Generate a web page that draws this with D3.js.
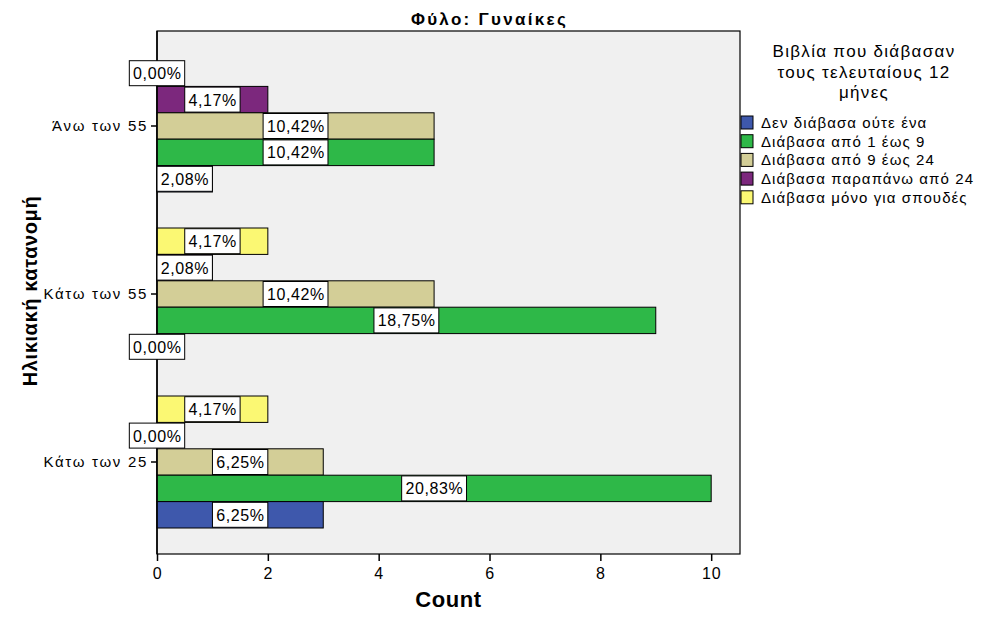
<!DOCTYPE html>
<html>
<head>
<meta charset="utf-8">
<script src="https://cdn.jsdelivr.net/npm/d3@7"></script>
<style>
  html, body { margin: 0; padding: 0; background: #ffffff; }
  svg { display: block; font-family: "Liberation Sans", Arial, sans-serif; }
</style>
</head>
<body>
<svg id="chart" width="981" height="618"></svg>
<script>
// Age groups (top to bottom)
const ageGroups = ["Άνω των 55", "Κάτω των 55", "Κάτω των 25"];

// Reading categories, in bar order within each group (top to bottom)
const readingCats = [
  "Διάβασα μόνο για σπουδές",
  "Διάβασα παραπάνω από 24",
  "Διάβασα από 9 έως 24",
  "Διάβασα από 1 έως 9",
  "Δεν διάβασα ούτε ένα"
];

// Legend order
const legendCats = [
  "Δεν διάβασα ούτε ένα",
  "Διάβασα από 1 έως 9",
  "Διάβασα από 9 έως 24",
  "Διάβασα παραπάνω από 24",
  "Διάβασα μόνο για σπουδές"
];

const catColors = {
  "Δεν διάβασα ούτε ένα": "#3e58ac",
  "Διάβασα από 1 έως 9": "#2eb848",
  "Διάβασα από 9 έως 24": "#d3ce97",
  "Διάβασα παραπάνω από 24": "#7c287d",
  "Διάβασα μόνο για σπουδές": "#fbf873"
};

// Counts per age group, in readingCats order
const countsOver55  = [0, 2, 5, 5, 1];
const countsUnder55 = [2, 1, 5, 9, 0];
const countsUnder25 = [2, 0, 3, 10, 3];

// Percent labels (share of all 48 women)
const pctOver55  = ["0,00%", "4,17%", "10,42%", "10,42%", "2,08%"];
const pctUnder55 = ["4,17%", "2,08%", "10,42%", "18,75%", "0,00%"];
const pctUnder25 = ["4,17%", "0,00%", "6,25%", "20,83%", "6,25%"];

const xTicks = [0, 2, 4, 6, 8, 10];

const countsByGroup = [countsOver55, countsUnder55, countsUnder25];
const pctByGroup = [pctOver55, pctUnder55, pctUnder25];

const rows = [];
ageGroups.forEach((g, gi) => {
  readingCats.forEach((c, ci) => {
    rows.push({ group: g, cat: c, value: countsByGroup[gi][ci], label: pctByGroup[gi][ci] });
  });
});

const svg = d3.select("#chart");

const plot = { left: 157, right: 740, top: 31, bottom: 554 };

const x = d3.scaleLinear().domain([0, 10.52]).range([plot.left, plot.right]);

const y0 = d3.scaleBand()
  .domain(ageGroups)
  .range([42, 546])
  .paddingInner(36 / 168)
  .paddingOuter(18 / 168);

const y1 = d3.scaleBand()
  .domain(readingCats)
  .range([0, y0.bandwidth()]);

// Plot background
svg.append("rect")
  .attr("x", plot.left).attr("y", plot.top)
  .attr("width", plot.right - plot.left).attr("height", plot.bottom - plot.top)
  .attr("fill", "#f0f0f0")
  .attr("stroke", "#000").attr("stroke-width", 1.2);

// Title
svg.append("text")
  .attr("x", (plot.left + plot.right) / 2 + 41).attr("y", 25)
  .attr("text-anchor", "middle")
  .attr("font-size", 17).attr("font-weight", "bold")
  .attr("letter-spacing", 2.3)
  .text("Φύλο: Γυναίκες");

// Bars
const bars = svg.append("g");
bars.selectAll("rect")
  .data(rows.filter(d => d.value > 0))
  .join("rect")
  .attr("x", x(0))
  .attr("y", d => y0(d.group) + y1(d.cat))
  .attr("width", d => x(d.value) - x(0))
  .attr("height", y1.bandwidth())
  .attr("fill", d => catColors[d.cat])
  .attr("stroke", "#000").attr("stroke-width", 1);

// X axis
const xAxis = svg.append("g")
  .attr("transform", `translate(0,${plot.bottom})`)
  .call(d3.axisBottom(x).tickValues(xTicks).tickSize(7).tickPadding(7).tickFormat(d3.format("d")));
xAxis.select(".domain").remove();
xAxis.selectAll("line").attr("stroke", "#000").attr("stroke-width", 1.5);
xAxis.selectAll("text")
  .attr("font-size", 16).attr("fill", "#000")
  .attr("letter-spacing", 0.8)
  .attr("font-family", "Liberation Sans, Arial, sans-serif");

// Y axis
const yAxis = svg.append("g")
  .attr("transform", `translate(${plot.left},0)`)
  .call(d3.axisLeft(y0).tickSize(6).tickPadding(3));
yAxis.select(".domain").remove();
yAxis.selectAll("line").attr("stroke", "#000").attr("stroke-width", 1.5);
yAxis.selectAll("text")
  .attr("font-size", 15).attr("fill", "#000")
  .attr("letter-spacing", 1.7)
  .attr("dy", "0.35em")
  .attr("font-family", "Liberation Sans, Arial, sans-serif");

// Axis line along the left edge
svg.append("line")
  .attr("x1", plot.left).attr("x2", plot.left)
  .attr("y1", plot.top).attr("y2", plot.bottom)
  .attr("stroke", "#000").attr("stroke-width", 1.5);

// Value labels: white boxes centred on each bar's midpoint
const labels = svg.append("g");
rows.forEach(d => {
  const cx = x(d.value / 2);
  const cy = y0(d.group) + y1(d.cat) + y1.bandwidth() / 2;
  const g = labels.append("g");
  const rect = g.append("rect");
  const t = g.append("text")
    .attr("x", cx + 0.3).attr("y", cy + 6)
    .attr("text-anchor", "middle")
    .attr("font-size", 16)
    .attr("letter-spacing", 0.6)
    .text(d.label);
  const w = t.node().getComputedTextLength() + 7;
  rect.attr("x", cx - w / 2).attr("y", cy - 12.5)
    .attr("width", w).attr("height", 25)
    .attr("fill", "#fff").attr("stroke", "#000").attr("stroke-width", 1);
});

// Axis titles
svg.append("text")
  .attr("x", (plot.left + plot.right) / 2).attr("y", 607)
  .attr("text-anchor", "middle")
  .attr("font-size", 22).attr("font-weight", "bold")
  .attr("letter-spacing", 0.6)
  .text("Count");

svg.append("text")
  .attr("transform", `translate(37,291) rotate(-90)`)
  .attr("text-anchor", "middle")
  .attr("font-size", 20).attr("font-weight", "bold")
  .attr("letter-spacing", 0.6)
  .text("Ηλικιακή κατανομή");

// Legend
const legendTitle = ["Βιβλία που διάβασαν", "τους τελευταίους 12", "μήνες"];
const lg = svg.append("g");
lg.selectAll("text.lt")
  .data(legendTitle)
  .join("text")
  .attr("class", "lt")
  .attr("x", 864).attr("y", (d, i) => 57 + i * 20.5)
  .attr("text-anchor", "middle")
  .attr("font-size", 17)
  .attr("letter-spacing", 1.3)
  .text(d => d);

const items = lg.selectAll("g.item")
  .data(legendCats)
  .join("g")
  .attr("class", "item")
  .attr("transform", (d, i) => `translate(741,${116 + i * 18.7})`);
items.append("rect")
  .attr("width", 12).attr("height", 13)
  .attr("fill", d => catColors[d])
  .attr("stroke", "#000").attr("stroke-width", 1);
items.append("text")
  .attr("x", 20).attr("y", 12)
  .attr("font-size", 15)
  .attr("letter-spacing", 1.1)
  .text(d => d);
</script>
</body>
</html>
